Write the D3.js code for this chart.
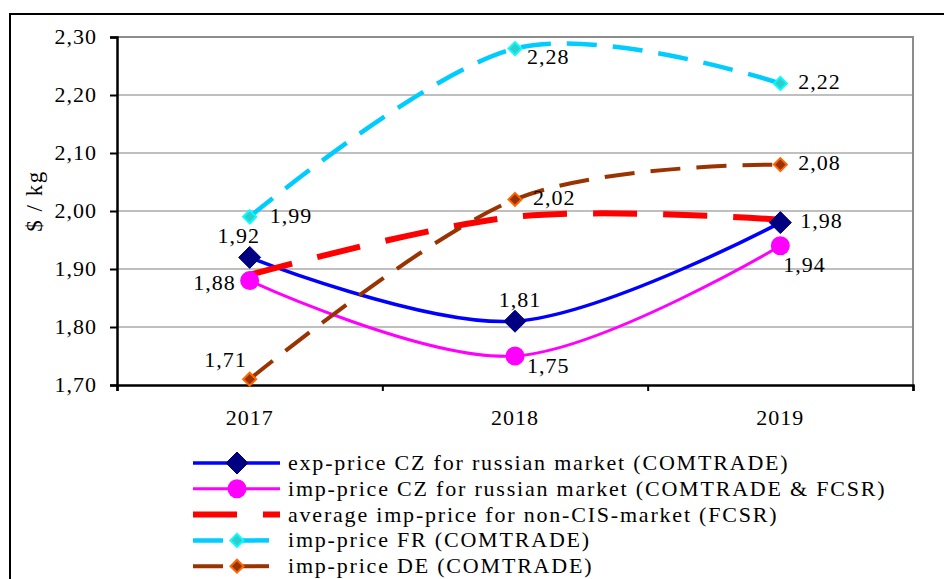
<!DOCTYPE html>
<html>
<head>
<meta charset="utf-8">
<script src="https://cdn.jsdelivr.net/npm/d3@7"></script>
<style>
  body { margin: 0; background: #fff; }
  svg text { font-family: "Liberation Serif", "Times New Roman", serif; fill: #000; }
</style>
</head>
<body>
<div id="chart"></div>
<script>
const years = ["2017", "2018", "2019"];
const yTicks = [1.70, 1.80, 1.90, 2.00, 2.10, 2.20, 2.30];

const expCZ = [1.92, 1.81, 1.98];
const impCZ = [1.88, 1.75, 1.94];
const avgNonCIS = [1.89, 1.99, 1.985];
const impFR = [1.99, 2.28, 2.22];
const impDE = [1.71, 2.02, 2.08];

const seriesNames = [
  "exp-price CZ for russian market (COMTRADE)",
  "imp-price CZ for russian market (COMTRADE & FCSR)",
  "average imp-price for non-CIS-market (FCSR)",
  "imp-price FR (COMTRADE)",
  "imp-price DE (COMTRADE)"
];

(function () {
  const W = 944, H = 579;
  const margin = {top: 37, left: 117};
  const width = 913 - margin.left;
  const height = 385 - margin.top;
  const comma = d => d3.format(".2f")(d).replace(".", ",");

  // styles for each series, same order as seriesNames
  const styles = [
    {values: expCZ, color: "#0000ff", width: 3.5, dash: null,
     marker: "diamond", mSize: 11, mFill: "#000080", mStroke: "#000080",
     labels: [[-11, -14, "middle"], [5, -14, "middle"], [20, 5, "start"]]},
    {values: impCZ, color: "#ff00ff", width: 3, dash: null,
     marker: "circle", mSize: 9.5, mFill: "#ff00ff", mStroke: "#ff00ff",
     labels: [[-14, 9, "end"], [12, 17, "start"], [3, 26, "start"]]},
    {values: avgNonCIS, color: "#ff0000", width: 6, dash: "44,26",
     marker: null, labels: null},
    {values: impFR, color: "#00ccff", width: 4.5, dash: "30,16",
     marker: "diamond", mSize: 6.5, mFill: "#33cccc", mStroke: "#00ffff",
     labels: [[20, 6, "start"], [12, 15, "start"], [18, 6, "start"]]},
    {values: impDE, color: "#993300", width: 4, dash: "30,16",
     marker: "diamond", mSize: 6.5, mFill: "#993300", mStroke: "#ff6600",
     labels: [[-3, -12, "end"], [18, 6, "start"], [18, 5, "start"]]}
  ];

  const svg = d3.select("#chart").append("svg")
    .attr("width", W)
    .attr("height", H);

  // outer frame
  svg.append("rect")
    .attr("x", 10).attr("y", 14)
    .attr("width", 950).attr("height", 600)
    .attr("fill", "none").attr("stroke", "#000").attr("stroke-width", 2);

  const g = svg.append("g")
    .attr("transform", "translate(" + margin.left + "," + margin.top + ")");

  const x = d3.scaleBand().domain(years).range([0, width]);
  const xEdge = d3.scaleLinear().domain([0, years.length]).range([0, width]);
  const y = d3.scaleLinear().domain([1.70, 2.30]).range([height, 0]);
  const xc = i => x(years[i]) + x.bandwidth() / 2;

  // gridlines
  g.append("g").selectAll("line")
    .data(yTicks.slice(1))
    .join("line")
    .attr("x1", 0).attr("x2", width)
    .attr("y1", d => y(d)).attr("y2", d => y(d))
    .attr("stroke", "#bfbfbf").attr("stroke-width", 2);

  // plot frame top/right
  g.append("path")
    .attr("d", "M0," + y(2.30) + "H" + width + "V" + height)
    .attr("fill", "none").attr("stroke", "#8c8c8c").attr("stroke-width", 2);

  // y axis
  const yAxis = g.append("g")
    .call(d3.axisLeft(y).tickValues(yTicks).tickSize(7).tickPadding(13).tickFormat(comma));
  yAxis.select(".domain").attr("stroke", "#000").attr("stroke-width", 2.5);
  yAxis.selectAll(".tick line").attr("stroke", "#000").attr("stroke-width", 2);
  yAxis.selectAll(".tick text")
    .attr("font-size", 22).attr("letter-spacing", 1)
    .attr("dy", "0.3em");

  // x axis: boundary ticks + centred labels
  const xTickAxis = g.append("g")
    .attr("transform", "translate(0," + height + ")")
    .call(d3.axisBottom(xEdge).tickValues(d3.range(years.length + 1)).tickSize(6).tickFormat(""));
  xTickAxis.select(".domain").attr("stroke", "#000").attr("stroke-width", 2.5);
  xTickAxis.selectAll(".tick line").attr("stroke", "#000").attr("stroke-width", 2);

  const xLabelAxis = g.append("g")
    .attr("transform", "translate(0," + height + ")")
    .call(d3.axisBottom(x).tickSize(0).tickPadding(24));
  xLabelAxis.select(".domain").remove();
  xLabelAxis.selectAll(".tick text")
    .attr("font-size", 22).attr("letter-spacing", 1);

  // y axis title
  svg.append("text")
    .attr("transform", "translate(34,201) rotate(-90)")
    .attr("text-anchor", "middle")
    .attr("dy", "0.35em")
    .attr("font-size", 23)
    .attr("letter-spacing", 1.5)
    .text("$ / kg");

  const line = d3.line()
    .x((d, i) => xc(i))
    .y(d => y(d))
    .curve(d3.curveCatmullRom.alpha(0));

  // lines
  styles.forEach(s => {
    g.append("path")
      .attr("d", line(s.values))
      .attr("fill", "none")
      .attr("stroke", s.color)
      .attr("stroke-width", s.width)
      .attr("stroke-dasharray", s.dash);
  });

  function drawMarker(sel, s, cx, cy) {
    if (s.marker === "circle") {
      sel.append("circle")
        .attr("cx", cx).attr("cy", cy).attr("r", s.mSize)
        .attr("fill", s.mFill);
    } else if (s.marker === "diamond") {
      const r = s.mSize;
      sel.append("path")
        .attr("d", "M" + cx + "," + (cy - r) + "L" + (cx + r) + "," + cy +
                   "L" + cx + "," + (cy + r) + "L" + (cx - r) + "," + cy + "Z")
        .attr("fill", s.mFill)
        .attr("stroke", s.mStroke)
        .attr("stroke-width", r > 8 ? 1 : 2);
    }
  }

  // markers and value labels
  styles.forEach(s => {
    if (!s.marker) return;
    s.values.forEach((v, i) => drawMarker(g, s, xc(i), y(v)));
  });
  styles.forEach(s => {
    if (!s.labels) return;
    g.append("g").selectAll("text")
      .data(s.values)
      .join("text")
      .attr("x", (d, i) => xc(i) + s.labels[i][0])
      .attr("y", (d, i) => y(d) + s.labels[i][1])
      .attr("text-anchor", (d, i) => s.labels[i][2])
      .attr("font-size", 22)
      .attr("letter-spacing", 1)
      .text(comma);
  });

  // legend
  const legend = svg.append("g");
  styles.forEach((s, i) => {
    const ly = 463 + i * 25.8;
    const row = legend.append("g");
    row.append("line")
      .attr("x1", 193).attr("x2", 280)
      .attr("y1", ly).attr("y2", ly)
      .attr("stroke", s.color)
      .attr("stroke-width", s.width)
      .attr("stroke-dasharray", s.dash);
    drawMarker(row, s, 237, ly);
    row.append("text")
      .attr("x", 288).attr("y", ly + 7)
      .attr("font-size", 22)
      .attr("letter-spacing", 1.8)
      .text(seriesNames[i]);
  });
})();
</script>
</body>
</html>
